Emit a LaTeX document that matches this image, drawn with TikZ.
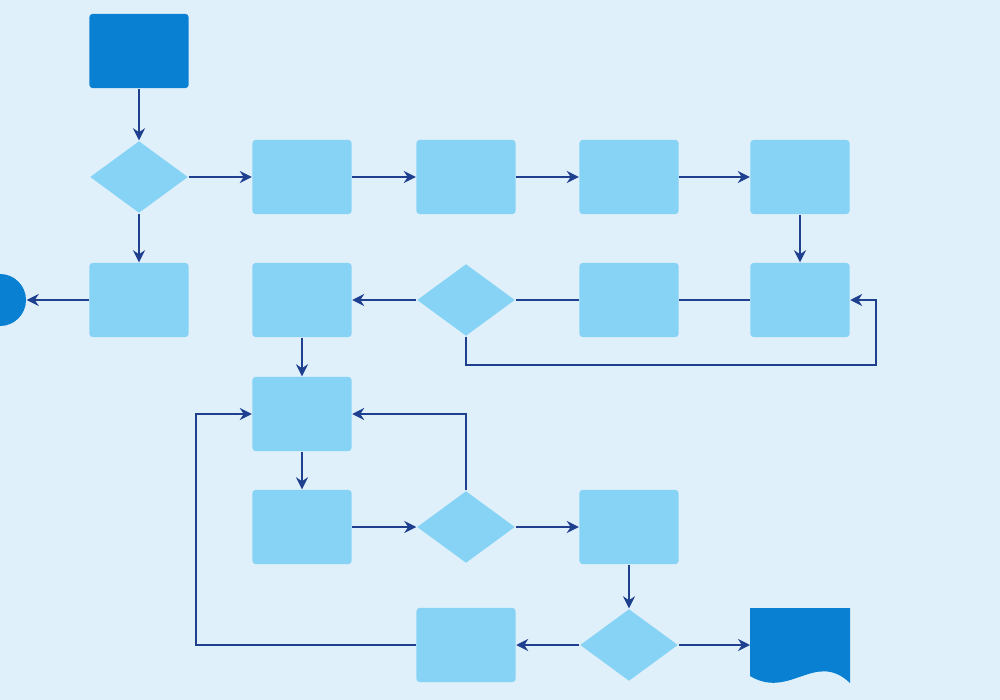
\documentclass[tikz,border=0pt]{standalone}
\usetikzlibrary{shapes.geometric,arrows.meta}
\definecolor{bgcol}{HTML}{DFF0FB}
\definecolor{boxcol}{HTML}{87D3F5}
\definecolor{darkcol}{HTML}{0A80D2}
\definecolor{linecol}{HTML}{1F3F8F}
\tikzset{
  box/.style={rectangle, fill=boxcol, minimum width=0.99cm, minimum height=0.74cm, inner sep=0pt, rounded corners=0.3mm},
  dia/.style={diamond, fill=boxcol, minimum width=0.98cm, minimum height=0.72cm, inner sep=0pt},
  flow/.style={draw=linecol, line width=0.5pt, -{Stealth[length=1.2mm,width=1.2mm]}},
  plain/.style={draw=linecol, line width=0.5pt}
}
\begin{document}
\begin{tikzpicture}[x=0.01cm, y=-0.01cm]
\fill[bgcol] (0,0) rectangle (1000,700);
\clip (0,0) rectangle (1000,700);

% top row
\node[box, fill=darkcol] (start) at (139,51) {};
\node[dia] (d1) at (139,177) {};
\node[box] (a1) at (302,177) {};
\node[box] (a2) at (466,177) {};
\node[box] (a3) at (629,177) {};
\node[box] (a4) at (800,177) {};

% second row
\node[circle, fill=darkcol, minimum size=0.52cm, inner sep=0pt] (stop) at (0,300) {};
\node[box] (b1) at (139,300) {};
\node[box] (b2) at (302,300) {};
\node[dia] (d2) at (466,300) {};
\node[box] (b3) at (629,300) {};
\node[box] (b4) at (800,300) {};

% lower part
\node[box] (c1) at (302,414) {};
\node[box] (e1) at (302,527) {};
\node[dia] (d3) at (466,527) {};
\node[box] (e2) at (629,527) {};
\node[box] (f1) at (466,645) {};
\node[dia] (d4) at (629,645) {};
\fill[darkcol] (750,676) -- (750,608) -- (850,608) -- (850,683)
  .. controls (815,650) and (790,700) .. cycle;
\coordinate (doc) at (750,645);

\draw[flow] (start) -- (d1);
\draw[flow] (d1) -- (a1);
\draw[flow] (a1) -- (a2);
\draw[flow] (a2) -- (a3);
\draw[flow] (a3) -- (a4);
\draw[flow] (d1) -- (b1);
\draw[flow] (a4) -- (b4);
\draw[plain] (b4) -- (b3);
\draw[plain] (b3) -- (d2);
\draw[flow] (d2) -- (b2);
\draw[flow] (d2.south) |- (876,365) |- (b4.east);
\draw[flow] (b1) -- (stop);
\draw[flow] (b2) -- (c1);
\draw[flow] (c1) -- (e1);
\draw[flow] (e1) -- (d3);
\draw[flow] (d3.north) |- (c1.east);
\draw[flow] (d3) -- (e2);
\draw[flow] (e2) -- (d4);
\draw[flow] (d4) -- (f1);
\draw[flow] (d4) -- (doc);
\draw[flow] (f1.west) -| (196,414) -- (c1.west);

\end{tikzpicture}
\end{document}
